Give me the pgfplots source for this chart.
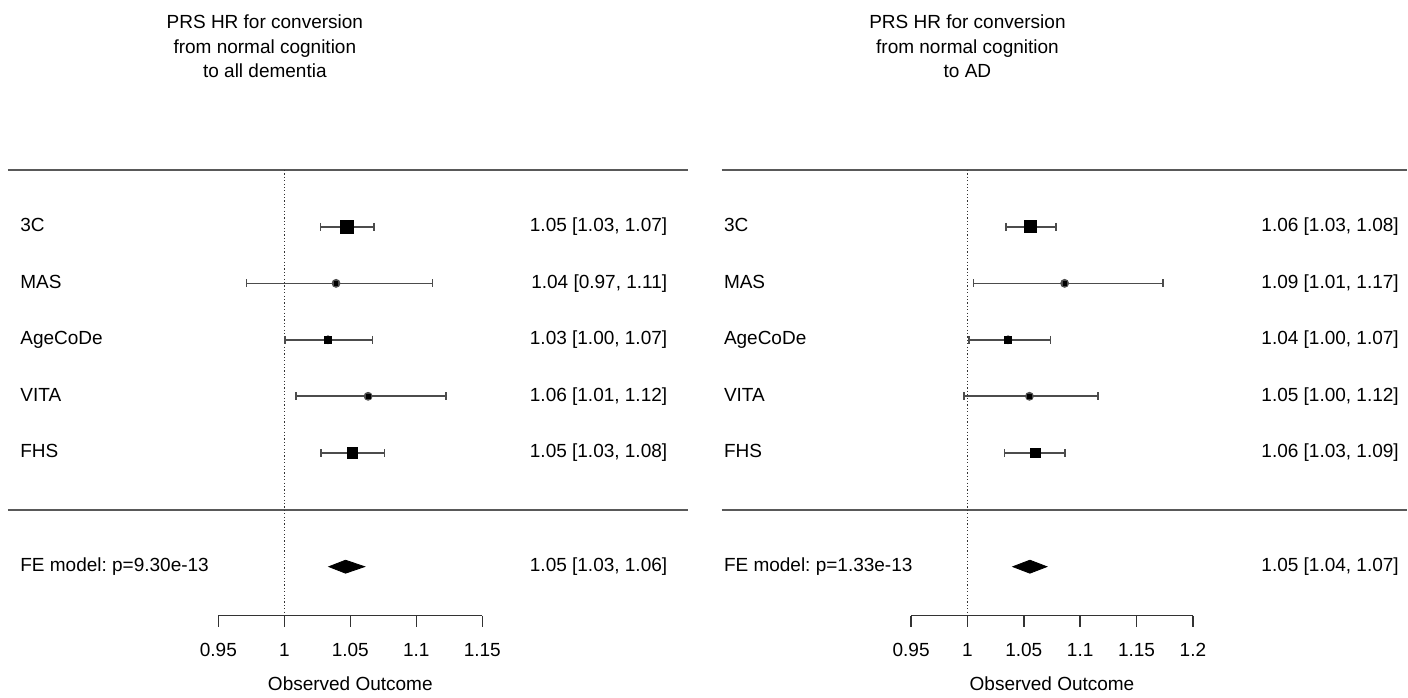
\documentclass[border=0pt]{standalone}
\usepackage{fontspec}
\setmainfont{Liberation Sans}
\usepackage{pgfplots}
\usepackage{pgfplotstable}
\pgfplotsset{compat=1.18}
\frenchspacing

% row = vertical position (px from top), est / lo / hi = HR and 95% CI, s = marker half-size (pt)
\pgfplotstableread{
row   est     lo      hi      s
227   1.0473  1.0274  1.0678  3.15
283.5 1.0392  0.9713  1.1123  0.85
340   1.0331  1.0007  1.0669  1.75
396.5 1.0635  1.0089  1.1225  1.1
453.3 1.0515  1.0280  1.0758  2.6
}\dataL
\pgfplotstableread{
row   est     lo      hi      s
227   1.0558  1.0340  1.0783  3.0
283.5 1.0862  1.0055  1.1733  0.85
340   1.0360  1.0012  1.0736  1.6
396.5 1.0550  0.9972  1.1159  1.1
453.3 1.0605  1.0328  1.0866  2.4
}\dataR

\pgfplotsset{
  forestpanel/.style={
    hide axis, scale only axis, width=352pt, height=349pt,
    ymin=0, ymax=698, y dir=reverse, clip=false,
  },
  cibars/.style={
    only marks, mark=none, black!70,
    error bars/.cd, x dir=both, x explicit, error mark=none,
    error bar style={black!70, line width=0.8pt},
  },
  whisk/.style={only marks, mark=|, mark size=2pt, black!70, mark options={line width=0.8pt}},
  boxes/.style={
    only marks, mark=square*, scatter,
    scatter/use mapped color={draw=black, fill=black},
    visualization depends on={\thisrow{s}\as\ps},
    scatter/@pre marker code/.append style={/tikz/mark size=\ps},
  },
}
\newcommand\lab[3]{\node[anchor=west, inner sep=0pt] at (axis cs:#1,#2) {\strut #3};}
\newcommand\ann[3]{\node[anchor=east, inner sep=0pt] at (axis cs:#1,#2) {\strut #3};}
\newcommand\tck[1]{\draw[black!80, line width=0.7pt] (axis cs:#1,616) -- (axis cs:#1,627);
  \node[inner sep=0pt] at (axis cs:#1,652) {\strut #1};}

\begin{document}
\begin{tikzpicture}[font=\fontsize{9.5}{12.25}\selectfont]
% ---------------- Left panel ----------------
\begin{axis}[forestpanel, at={(0,0)}, anchor=north west,
  xmin=0.78447, xmax=1.31780]
\path (rel axis cs:0,0) rectangle (rel axis cs:1,1);
\node[align=center, anchor=center] at (axis cs:0.98523,46.5)
  {PRS HR for conversion\\from normal cognition\\to all dementia};
\addplot[black!65, line width=0.9pt] coordinates {(0.7905,170)(1.3057,170)};
\addplot[black!65, line width=0.9pt] coordinates {(0.7905,510)(1.3057,510)};
\addplot[black!80, line width=0.55pt, dash pattern=on 0.6pt off 1.1pt] coordinates {(1,170)(1,616)};
\addplot[cibars] table[x=est, y=row,
  x error minus expr=\thisrow{est}-\thisrow{lo},
  x error plus expr=\thisrow{hi}-\thisrow{est}] {\dataL};
\addplot[whisk] table[x=lo, y=row] {\dataL};
\addplot[whisk] table[x=hi, y=row] {\dataL};
\addplot[boxes] table[x=est, y=row] {\dataL};
\addplot[fill=black, draw=black] coordinates {(1.0338,567)(1.0464,560.5)(1.0608,567)(1.0464,573.5)} -- cycle;
\lab{0.7996}{227}{3C}
\lab{0.7996}{283.5}{MAS}
\lab{0.7996}{340}{AgeCoDe}
\lab{0.7996}{396.5}{VITA}
\lab{0.7996}{453.3}{FHS}
\lab{0.7996}{567}{FE model: p=9.30e-13}
\ann{1.2905}{227}{1.05 [1.03, 1.07]}
\ann{1.2905}{283.5}{1.04 [0.97, 1.11]}
\ann{1.2905}{340}{1.03 [1.00, 1.07]}
\ann{1.2905}{396.5}{1.06 [1.01, 1.12]}
\ann{1.2905}{453.3}{1.05 [1.03, 1.08]}
\ann{1.2905}{567}{1.05 [1.03, 1.06]}
\addplot[black!80, line width=0.7pt] coordinates {(0.95,616)(1.15,616)};
\tck{0.95}\tck{1}\tck{1.05}\tck{1.1}\tck{1.15}
\node[inner sep=0pt] at (axis cs:1.05,686) {\strut Observed Outcome};
\end{axis}

% ---------------- Right panel ----------------
\begin{axis}[forestpanel, at={(352pt,0)}, anchor=north west,
  xmin=0.76596, xmax=1.39007]
\path (rel axis cs:0,0) rectangle (rel axis cs:1,1);
\node[align=center, anchor=center] at (axis cs:1.0000,46.5)
  {PRS HR for conversion\\from normal cognition\\to AD};
\addplot[black!65, line width=0.9pt] coordinates {(0.7819,170)(1.3900,170)};
\addplot[black!65, line width=0.9pt] coordinates {(0.7819,510)(1.3900,510)};
\addplot[black!80, line width=0.55pt, dash pattern=on 0.6pt off 1.1pt] coordinates {(1,170)(1,616)};
\addplot[cibars] table[x=est, y=row,
  x error minus expr=\thisrow{est}-\thisrow{lo},
  x error plus expr=\thisrow{hi}-\thisrow{est}] {\dataR};
\addplot[whisk] table[x=lo, y=row] {\dataR};
\addplot[whisk] table[x=hi, y=row] {\dataR};
\addplot[boxes] table[x=est, y=row] {\dataR};
\addplot[fill=black, draw=black] coordinates {(1.0403,567)(1.0554,560.5)(1.0704,567)(1.0554,573.5)} -- cycle;
\lab{0.7837}{227}{3C}
\lab{0.7837}{283.5}{MAS}
\lab{0.7837}{340}{AgeCoDe}
\lab{0.7837}{396.5}{VITA}
\lab{0.7837}{453.3}{FHS}
\lab{0.7837}{567}{FE model: p=1.33e-13}
\ann{1.3829}{227}{1.06 [1.03, 1.08]}
\ann{1.3829}{283.5}{1.09 [1.01, 1.17]}
\ann{1.3829}{340}{1.04 [1.00, 1.07]}
\ann{1.3829}{396.5}{1.05 [1.00, 1.12]}
\ann{1.3829}{453.3}{1.06 [1.03, 1.09]}
\ann{1.3829}{567}{1.05 [1.04, 1.07]}
\addplot[black!80, line width=0.7pt] coordinates {(0.95,616)(1.2,616)};
\tck{0.95}\tck{1}\tck{1.05}\tck{1.1}\tck{1.15}\tck{1.2}
\node[inner sep=0pt] at (axis cs:1.075,686) {\strut Observed Outcome};
\end{axis}
\end{tikzpicture}
\end{document}
